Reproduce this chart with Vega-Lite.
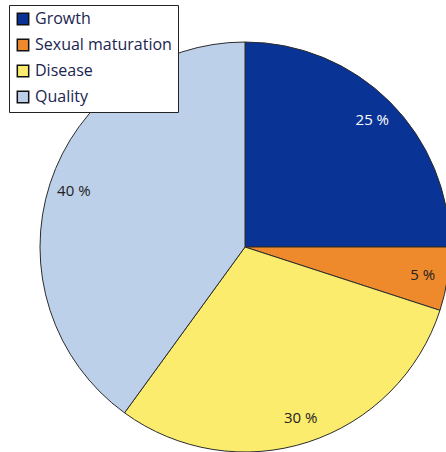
{
  "$schema": "https://vega.github.io/schema/vega-lite/v6.json",
  "width": 410,
  "height": 410,
  "autosize": {"type": "none"},
  "padding": {"left": 40, "top": 42, "right": 0, "bottom": 0},
  "background": "white",
  "config": {"view": {"stroke": null}, "font": "Open Sans"},
  "data": {
    "values": [
      {"category": "Growth", "share": 25, "rank": 1},
      {"category": "Sexual maturation", "share": 5, "rank": 2},
      {"category": "Disease", "share": 30, "rank": 3},
      {"category": "Quality", "share": 40, "rank": 4}
    ]
  },
  "transform": [
    {"calculate": "datum.share + ' %'", "as": "label"}
  ],
  "encoding": {
    "theta": {"field": "share", "type": "quantitative", "stack": true},
    "order": {"field": "rank", "type": "quantitative"}
  },
  "layer": [
    {
      "mark": {"type": "arc", "stroke": "#2b2b2b", "strokeWidth": 1},
      "encoding": {
        "color": {
          "field": "category",
          "type": "nominal",
          "sort": ["Growth", "Sexual maturation", "Disease", "Quality"],
          "scale": {
            "domain": ["Growth", "Sexual maturation", "Disease", "Quality"],
            "range": ["#0a3396", "#ee8a2c", "#fbec6e", "#bdd0ea"]
          },
          "legend": {
            "title": null,
            "orient": "none",
            "legendX": -31,
            "legendY": -37,
            "symbolType": "square",
            "symbolSize": 130,
            "symbolStrokeColor": "#111",
            "symbolStrokeWidth": 1.5,
            "labelFontSize": 16,
            "labelFont": "Open Sans",
            "labelColor": "#1a2550",
            "rowPadding": 8,
            "labelOffset": 4,
            "strokeColor": "#222",
            "fillColor": "white",
            "padding": 6,
            "symbolOffset": 0
          }
        }
      }
    },
    {
      "mark": {"type": "text", "radius": 180, "fontSize": 15, "font": "Open Sans"},
      "encoding": {
        "text": {"field": "label", "type": "nominal"},
        "color": {
          "condition": {"test": "datum.category === 'Growth'", "value": "white"},
          "value": "#222"
        }
      }
    }
  ]
}
